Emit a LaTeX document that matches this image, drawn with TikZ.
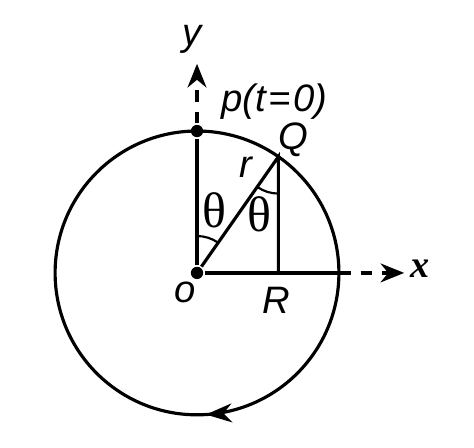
\documentclass[tikz,border=0pt]{standalone}
\usepackage{fontspec}
\setmainfont{Liberation Sans}
\newfontfamily\thetafont{Liberation Serif}
\usetikzlibrary{arrows.meta,decorations.markings}

\tikzset{
  lbl/.style={font=\fontsize{23}{27}\selectfont\itshape, inner sep=0pt},
  ang/.style={font=\fontsize{30}{34}\thetafont\upshape, inner sep=0pt},
  dot/.style={circle, fill, inner sep=0pt, minimum size=2.6mm},
  axis/.style={dash pattern=on 7pt off 6pt, -{Stealth[length=5mm,width=4mm]}},
  turn/.style={postaction={decorate}, decoration={markings,
      mark=at position 0.49 with {\arrow{Stealth[length=5.5mm,width=4mm]}}}}
}

\begin{document}
\begin{tikzpicture}[line width=1.9pt]
  \useasboundingbox (-4.165,-3.70) rectangle (5.856,5.77);

  % points
  \node[dot] (o) at (0,0) {};
  \node[dot] (p) at (0,3) {};
  \coordinate (q) at (55:3);
  \coordinate (r) at (q |- o);
  \coordinate (xa) at (3,0);
  \coordinate (xend) at (4.38,0);
  \coordinate (yend) at (0,4.42);

  % circle, clockwise
  \draw[turn] (p) arc[start angle=90, end angle=-270, radius=3];

  % lines
  \draw (o) -- (p);
  \draw (o) -- (q) -- (r);
  \draw (o) -- (xa);
  \draw[axis] (p) -- (yend);
  \draw[axis] (xa) -- (xend);

  % angles
  \draw[line width=1.3pt] (o) ++(90:0.78) arc[start angle=90, end angle=55, radius=0.78];
  \draw[line width=1.3pt] (q) ++(235:0.78) arc[start angle=235, end angle=270, radius=0.78];

  % labels
  \begin{scope}[every node/.style={lbl}]
    \node (ylbl) at (-0.1,4.93) {y};
    \node (xlbl) at (4.71,0.08) {\thetafont\bfseries\itshape x};
    \node (plbl) at (1.63,3.62) {p(t\kern1.5pt=\kern1.5pt0)};
    \node (qlbl) at (2.03,2.81) {Q};
    \node (rlbl) at (1.04,2.24) {r};
    \node (olbl) at (-0.25,-0.42) {o};
    \node (Rlbl) at (1.67,-0.59) {R};
    \node[ang] (t1) at (0.36,1.33) {θ};
    \node[ang] (t2) at (1.33,1.23) {θ};
  \end{scope}
\end{tikzpicture}
\end{document}
